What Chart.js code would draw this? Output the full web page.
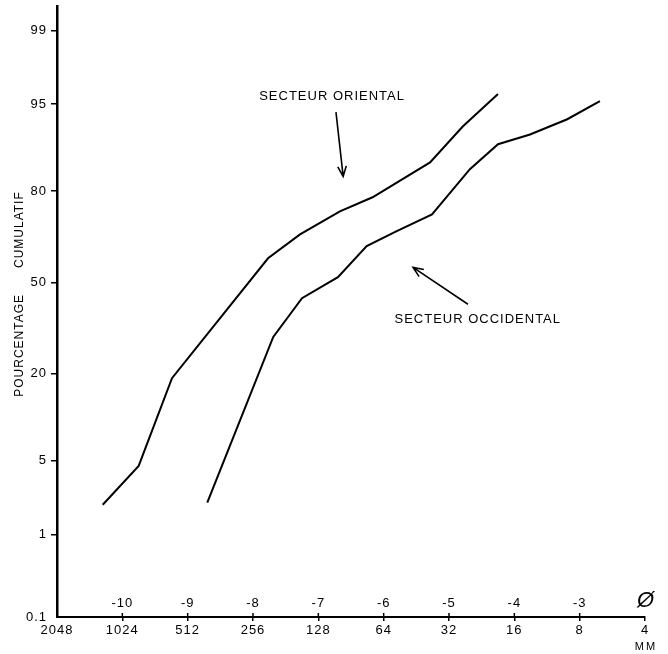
<!DOCTYPE html>
<html>
<head>
<meta charset="utf-8">
<script src="https://cdn.jsdelivr.net/npm/chart.js@4.4.1/dist/chart.umd.min.js"></script>
<style>
  html, body { margin: 0; padding: 0; background: #fff; }
</style>
</head>
<body>
<canvas id="grainChart" width="668" height="654"></canvas>
<script>
// cumulative curves: phi class (x) and cumulative percent (y)
const orientalPhi = [-10.30, -9.75, -9.24, -7.77, -7.28, -6.67, -6.17, -5.29, -4.79, -4.25];
const orientalPct = [2.0, 4.5, 18.8, 58.8, 67.1, 74.4, 78.4, 86.6, 92.5, 95.9];
const occidentalPhi = [-8.70, -7.69, -7.25, -6.70, -6.26, -5.80, -5.26, -4.68, -4.25, -3.76, -3.19, -2.69];
const occidentalPct = [2.1, 30.7, 44.2, 51.9, 63.1, 68.2, 73.5, 85.2, 89.9, 91.4, 93.4, 95.3];

// axis ticks
const percentTicks = [0.1, 1, 5, 20, 50, 80, 95, 99];
const phiTicks = [-11, -10, -9, -8, -7, -6, -5, -4, -3, -2];
const phiLabels = ['', '-10', '-9', '-8', '-7', '-6', '-5', '-4', '-3', ''];
const mmLabels = ['2048', '1024', '512', '256', '128', '64', '32', '16', '8', '4'];

// probability paper: percent -> normal quantile (Acklam approximation)
function probit(p) {
  const a = [-39.69683028665376, 220.9460984245205, -275.9285104469687, 138.3577518672690, -30.66479806614716, 2.506628277459239];
  const b = [-54.47609879822406, 161.5858368580409, -155.6989798598866, 66.80131188771972, -13.28068155288572];
  const c = [-0.007784894002430293, -0.3223964580411365, -2.400758277161838, -2.549732539343734, 4.374664141464968, 2.938163982698783];
  const d = [0.007784695709041462, 0.3224671290700398, 2.445134137142996, 3.754408661907416];
  const low = 0.02425;
  let q, r;
  if (p < low) {
    q = Math.sqrt(-2 * Math.log(p));
    return (((((c[0]*q+c[1])*q+c[2])*q+c[3])*q+c[4])*q+c[5]) / ((((d[0]*q+d[1])*q+d[2])*q+d[3])*q+1);
  }
  if (p > 1 - low) {
    q = Math.sqrt(-2 * Math.log(1 - p));
    return -(((((c[0]*q+c[1])*q+c[2])*q+c[3])*q+c[4])*q+c[5]) / ((((d[0]*q+d[1])*q+d[2])*q+d[3])*q+1);
  }
  q = p - 0.5; r = q * q;
  return (((((a[0]*r+a[1])*r+a[2])*r+a[3])*r+a[4])*r+a[5])*q / (((((b[0]*r+b[1])*r+b[2])*r+b[3])*r+b[4])*r+1);
}
const toZ = pct => probit(pct / 100);

const toPoints = (xs, ys) => xs.map((x, i) => ({ x: x, y: toZ(ys[i]) }));

// curve captions and arrows, placed in data units
const notes = [
  { text: 'SECTEUR ORIENTAL', phi: -6.79, pct: 95.7 },
  { text: 'SECTEUR OCCIDENTAL', phi: -4.56, pct: 36.7 }
];
const arrows = [
  { from: [-6.73, 94.2], to: [-6.62, 83.6] },
  { from: [-4.71, 42.0], to: [-5.55, 55.5] }
];

const FONT = '"Liberation Sans", Arial, sans-serif';
const INK = '#000';

const annotate = {
  id: 'annotate',
  beforeLayout(chart) { chart.ctx.letterSpacing = '1px'; },
  beforeDraw(chart) { chart.ctx.letterSpacing = '1px'; },
  afterDraw(chart) {
    const { ctx, chartArea, scales: { x, y } } = chart;
    ctx.save();
    ctx.fillStyle = INK;
    ctx.strokeStyle = INK;
    ctx.textAlign = 'center';
    ctx.textBaseline = 'middle';

    // phi values above the axis, with small tick stubs
    ctx.font = '13px ' + FONT;
    ctx.lineWidth = 1.5;
    phiTicks.forEach((v, i) => {
      const px = x.getPixelForValue(v);
      ctx.fillText(phiLabels[i], px, chartArea.bottom - 14);
      if (i > 0 && i < phiTicks.length - 1) {
        ctx.beginPath();
        ctx.moveTo(px, chartArea.bottom - 4);
        ctx.lineTo(px, chartArea.bottom);
        ctx.stroke();
      }
    });
    const endX = x.getPixelForValue(-2);
    ctx.font = 'italic 22px ' + FONT;
    ctx.fillText('\u00D8', endX + 1, chartArea.bottom - 16);
    ctx.font = '11px ' + FONT;
    ctx.letterSpacing = '2px';
    ctx.fillText('MM', endX + 1, chartArea.bottom + 30);
    ctx.letterSpacing = '1px';

    // y axis title
    ctx.save();
    ctx.translate(20, chartArea.top + 288);
    ctx.rotate(-Math.PI / 2);
    ctx.font = '12px ' + FONT;
    ctx.fillText('POURCENTAGE      CUMULATIF', 0, 0);
    ctx.restore();

    // captions
    ctx.font = '13px ' + FONT;
    notes.forEach(n => ctx.fillText(n.text, x.getPixelForValue(n.phi), y.getPixelForValue(toZ(n.pct))));

    // arrows
    ctx.lineWidth = 1.6;
    arrows.forEach(a => {
      const x0 = x.getPixelForValue(a.from[0]), y0 = y.getPixelForValue(toZ(a.from[1]));
      const x1 = x.getPixelForValue(a.to[0]), y1 = y.getPixelForValue(toZ(a.to[1]));
      const ang = Math.atan2(y1 - y0, x1 - x0);
      ctx.beginPath();
      ctx.moveTo(x0, y0);
      ctx.lineTo(x1, y1);
      ctx.moveTo(x1 - 11 * Math.cos(ang - 0.4), y1 - 11 * Math.sin(ang - 0.4));
      ctx.lineTo(x1, y1);
      ctx.lineTo(x1 - 11 * Math.cos(ang + 0.4), y1 - 11 * Math.sin(ang + 0.4));
      ctx.stroke();
    });
    ctx.restore();
  }
};

new Chart(document.getElementById('grainChart').getContext('2d'), {
  type: 'scatter',
  data: {
    datasets: [
      { label: 'Secteur oriental', data: toPoints(orientalPhi, orientalPct) },
      { label: 'Secteur occidental', data: toPoints(occidentalPhi, occidentalPct) }
    ]
  },
  options: {
    responsive: false,
    animation: false,
    showLine: true,
    layout: { padding: { top: 6, right: 23, left: 0, bottom: 0 } },
    elements: {
      point: { radius: 0, hoverRadius: 0 },
      line: { borderColor: INK, borderWidth: 2, tension: 0 }
    },
    plugins: { legend: { display: false }, tooltip: { enabled: false } },
    scales: {
      x: {
        type: 'linear',
        min: -11,
        max: -2,
        afterFit: s => { s.height = 37; },
        afterBuildTicks: s => { s.ticks = phiTicks.map(v => ({ value: v })); },
        grid: {
          drawOnChartArea: false,
          tickLength: 4,
          lineWidth: 1.5,
          color: c => (c.index === 0 ? 'rgba(0,0,0,0)' : INK)
        },
        border: { display: true, color: INK, width: 2 },
        ticks: {
          color: INK,
          padding: 2,
          maxRotation: 0,
          autoSkip: false,
          font: { family: FONT, size: 13 },
          callback: (v, i) => mmLabels[i]
        }
      },
      y: {
        type: 'linear',
        min: toZ(0.1),
        max: 2.552,
        afterFit: s => { s.width = 57; },
        afterBuildTicks: s => { s.ticks = percentTicks.map(p => ({ value: toZ(p) })); },
        grid: {
          drawOnChartArea: false,
          tickLength: 6,
          lineWidth: 1.5,
          color: c => (c.index === 0 ? 'rgba(0,0,0,0)' : INK)
        },
        border: { display: true, color: INK, width: 2.5 },
        ticks: {
          color: INK,
          padding: 4,
          autoSkip: false,
          font: { family: FONT, size: 13, lineHeight: 0.3 },
          callback: (v, i) => String(percentTicks[i])
        }
      }
    }
  },
  plugins: [annotate]
});
</script>
</body>
</html>
